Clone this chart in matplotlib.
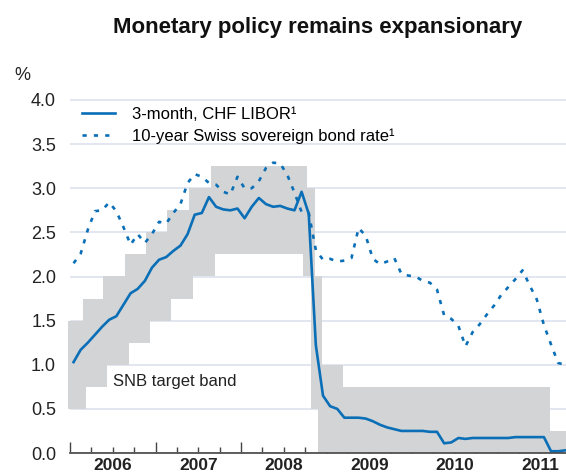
import numpy as np
import pandas as pd
import matplotlib
matplotlib.use('Agg')
import matplotlib.pyplot as plt

plt.rcParams['font.family'] = ['Liberation Sans', 'DejaVu Sans']

# monthly observations, Jan 2006 - Oct 2011 (plotted mid-month)
months = pd.date_range('2006-01-01', '2011-10-01', freq='MS')

libor = [1.03, 1.17, 1.25, 1.34, 1.43, 1.51, 1.55, 1.68, 1.81, 1.86, 1.95, 2.10,
         2.19, 2.22, 2.29, 2.35, 2.48, 2.70, 2.72, 2.90, 2.79, 2.76, 2.75, 2.77,
         2.66, 2.79, 2.89, 2.82, 2.79, 2.80, 2.77, 2.75, 2.96, 2.71, 1.22, 0.65,
         0.53, 0.50, 0.40, 0.40, 0.40, 0.39, 0.36, 0.32, 0.29, 0.27, 0.25, 0.25,
         0.25, 0.25, 0.24, 0.24, 0.11, 0.12, 0.17, 0.16, 0.17, 0.17, 0.17, 0.17,
         0.17, 0.17, 0.18, 0.18, 0.18, 0.18, 0.18, 0.02, 0.02, 0.03]

bond = [2.15, 2.26, 2.53, 2.74, 2.75, 2.84, 2.74, 2.56, 2.36, 2.48, 2.38, 2.48,
        2.62, 2.60, 2.72, 2.82, 3.06, 3.16, 3.13, 3.06, 3.04, 2.96, 2.93, 3.13,
        3.00, 3.00, 3.08, 3.23, 3.29, 3.28, 3.15, 2.95, 2.73, 2.72, 2.30, 2.19,
        2.20, 2.17, 2.18, 2.21, 2.55, 2.46, 2.20, 2.14, 2.17, 2.21, 2.03, 2.01,
        2.00, 1.95, 1.93, 1.85, 1.56, 1.52, 1.44, 1.21, 1.37, 1.46, 1.57, 1.67,
        1.79, 1.88, 1.97, 2.07, 1.90, 1.74, 1.45, 1.23, 1.02, 1.00]

# SNB target band (step changes, decimal year)
band_upper_start = [2005.98, 2006.15, 2006.39, 2006.645, 2006.89, 2007.14, 2007.395,
                    2007.65, 2008.775, 2008.86, 2008.945, 2009.195, 2011.615]
band_upper = [1.5, 1.75, 2.0, 2.25, 2.5, 2.75, 3.0, 3.25, 3.0, 2.0, 1.0, 0.75, 0.25]
band_lower_start = [2005.98, 2006.19, 2006.43, 2006.69, 2006.935, 2007.18, 2007.435,
                    2007.695, 2008.73, 2008.82, 2008.905]
band_lower = [0.5, 0.75, 1.0, 1.25, 1.5, 1.75, 2.0, 2.25, 2.0, 0.5, 0.0]

years = [2006, 2007, 2008, 2009, 2010, 2011]
x_end = 2011.80

blue = '#0a6fb7'
grey = '#d3d4d6'

t = months.year + (months.month - 0.5) / 12

edges = np.array(sorted(set(band_upper_start + band_lower_start + [x_end])))
up = np.array(band_upper)[np.searchsorted(band_upper_start, edges, side='right') - 1]
lo = np.array(band_lower)[np.searchsorted(band_lower_start, edges, side='right') - 1]

fig = plt.figure(figsize=(5.66, 4.75), dpi=100)
H = 4.02 * 88.25 / 475
ax = fig.add_axes([70 / 566, 22 / 475, 496 / 566, H])

ax.fill_between(edges, lo, up, step='post', color=grey, lw=0, zorder=1, clip_on=False)
ax.plot(t, bond, color=blue, lw=1.9, linestyle=(0, (1.6, 2.7)),
        label='10-year Swiss sovereign bond rate\u00b9', zorder=3)
ax.plot(t, libor, color=blue, lw=1.9, label='3-month, CHF LIBOR\u00b9', zorder=4)

ax.set_xlim(2006, x_end)
ax.set_ylim(0, 4.02)

yt = np.arange(0, 4.01, 0.5)
ax.set_yticks(yt)
ax.set_yticklabels([f'{v:.1f}' for v in yt])
ax.yaxis.grid(True, color='#dfe4f0', lw=1.3)
ax.set_axisbelow(True)
ax.tick_params(axis='y', length=0, pad=10, labelsize=13, labelcolor='#222222')

ax.set_xticks(years)
ax.set_xticks(np.arange(2006, 2011.8, 0.25), minor=True)
ax.set_xticklabels([])
ax.tick_params(axis='x', which='major', direction='in', length=8, width=1, color='#444444')
ax.tick_params(axis='x', which='minor', direction='in', length=4, width=1, color='#444444')
for yr in years:
    ax.text(yr + 0.5, -0.035, str(yr), transform=ax.get_xaxis_transform(),
            ha='center', va='center', fontsize=12.5, fontweight='bold', color='#222222')

for s in ['top', 'right', 'left']:
    ax.spines[s].set_visible(False)
ax.spines['bottom'].set_color('#444444')
ax.spines['bottom'].set_linewidth(1.2)
ax.spines['bottom'].set_zorder(5)

h, l = ax.get_legend_handles_labels()
ax.legend(h[::-1], l[::-1], loc='upper left', bbox_to_anchor=(0.0236, 0.9765),
          frameon=False, fontsize=12, handlelength=2.0, handletextpad=1.0,
          borderpad=0, borderaxespad=0, labelspacing=0.41)

ax.text(2006.5, 0.81, 'SNB target band', fontsize=12, va='center', ha='left', color='#222222')

fig.text(318 / 566, 1 - 27 / 475, 'Monetary policy remains expansionary',
         ha='center', va='center', fontsize=16, fontweight='bold', color='#111111')
fig.text(22 / 566, 1 - 75 / 475, '%', ha='center', va='center', fontsize=13, color='#222222')

fig.savefig('out.png', dpi=100)
